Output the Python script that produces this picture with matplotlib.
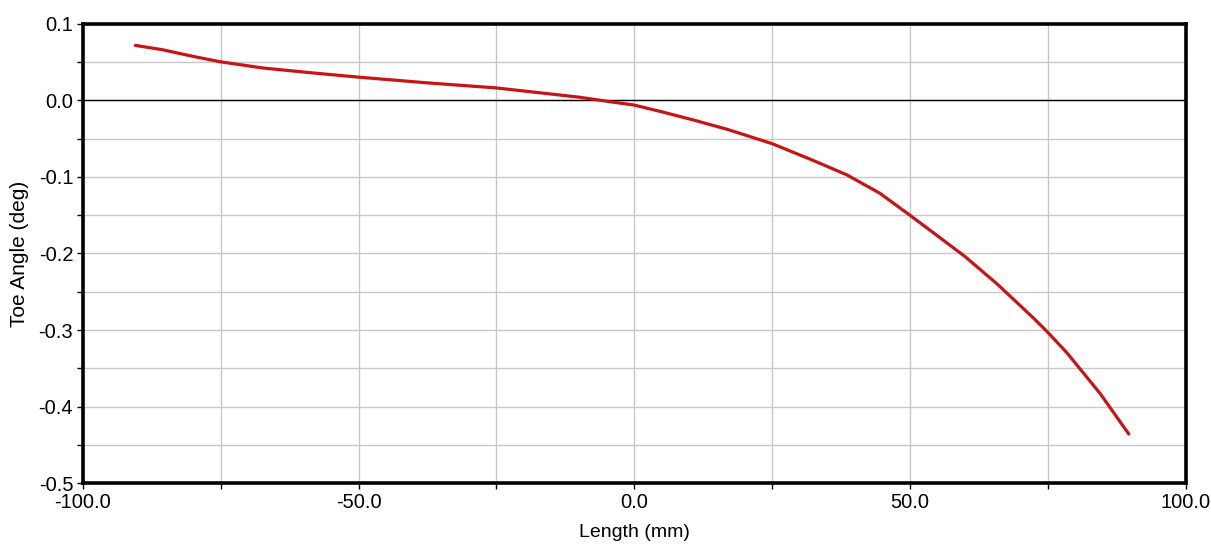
import matplotlib
matplotlib.use("Agg")
import matplotlib.pyplot as plt
from matplotlib.ticker import MultipleLocator, FormatStrFormatter

plt.rcParams.update({
    "font.family": ["Liberation Sans", "DejaVu Sans"],
    "axes.linewidth": 2.6,
})

# Toe angle vs. rack length
length_mm = [-90.5, -85.7, -79.6, -75, -67.4, -58.3, -50, -37.5, -25, -10, -4,
             0, 5, 11, 17, 25, 32, 38.5, 44.5, 50, 54, 60, 66, 72.5, 75, 78.5,
             84.5, 89.7]
toe_deg = [0.072, 0.0665, 0.057, 0.0505, 0.0425, 0.036, 0.0305, 0.023, 0.0164,
           0.0043, -0.002, -0.006, -0.0148, -0.026, -0.038, -0.0564, -0.077,
           -0.097, -0.121, -0.150, -0.1715, -0.204, -0.241, -0.285, -0.303,
           -0.330, -0.383, -0.436]

fig = plt.figure(figsize=(12.11, 5.55), dpi=100)
ax = fig.add_axes([0.0685, 0.1297, 0.9105, 0.8271])

ax.plot(length_mm, toe_deg, color="#c81414", linewidth=2.3, zorder=3,
        solid_joinstyle="round", solid_capstyle="round")
ax.axhline(0.0, color="black", linewidth=1.0, zorder=2)

ax.set_xlim(-100, 100)
ax.set_ylim(-0.5, 0.1)
ax.xaxis.set_major_locator(MultipleLocator(50))
ax.xaxis.set_minor_locator(MultipleLocator(25))
ax.yaxis.set_major_locator(MultipleLocator(0.1))
ax.yaxis.set_minor_locator(MultipleLocator(0.05))
ax.xaxis.set_major_formatter(FormatStrFormatter("%.1f"))
ax.yaxis.set_major_formatter(FormatStrFormatter("%.1f"))

ax.grid(which="both", color="#c8c8c8", linewidth=1.0, zorder=1)
ax.set_axisbelow(True)
ax.tick_params(which="both", direction="out", length=4, width=1.0,
               colors="black", labelsize=14.5, pad=3)

ax.set_xlabel("Length (mm)", fontsize=14, labelpad=9)
ax.set_ylabel("Toe Angle (deg)", fontsize=15, labelpad=7)

fig.savefig("out.png", dpi=100)
